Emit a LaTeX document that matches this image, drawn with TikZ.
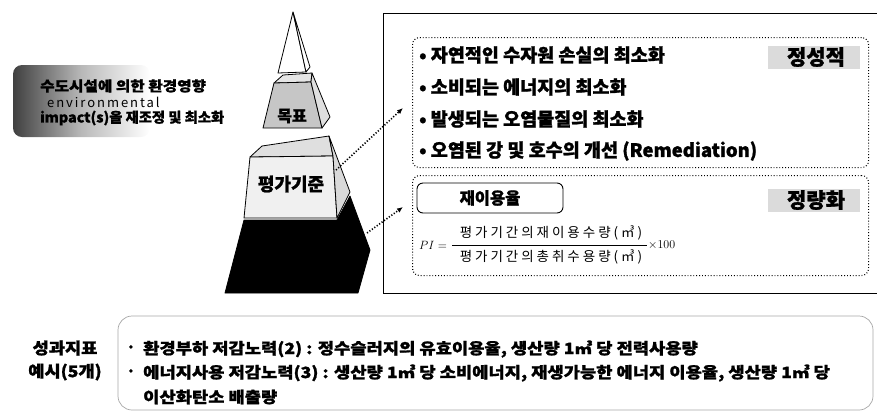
\documentclass[tikz,border=0pt]{standalone}
\usepackage{graphicx}
\usepackage{fontspec}
\setmainfont{Noto Sans CJK KR}[BoldFeatures={FakeBold=1.2}]
\newfontfamily\krlight[LetterSpace=22]{Noto Sans CJK KR}
\newfontfamily\krspaced[LetterSpace=15]{Noto Sans CJK KR}
\usetikzlibrary{arrows.meta}
\newcommand{\wide}[2]{\scalebox{#1}[1]{#2}}
\begin{document}
\begin{tikzpicture}[x=1pt,y=-1pt,
  edge/.style={draw=black, line width=0.8pt, line join=round},
  dotbox/.style={draw, line width=1.1pt, dash pattern=on 0.9pt off 2pt, rounded corners=7pt},
  dotarrow/.style={line width=1.6pt, dash pattern=on 1.2pt off 1.8pt, -{Latex[length=6pt,width=5pt]}},
  bigtxt/.style={anchor=west, inner sep=0pt, font=\bfseries\fontsize{18.5}{21}\selectfont},
  lowtxt/.style={anchor=west, inner sep=0pt, font=\bfseries\fontsize{15.5}{18}\selectfont},
  lbltxt/.style={anchor=west, inner sep=0pt, font=\bfseries\fontsize{14}{16}\selectfont},
  tag/.style={inner sep=0pt, font=\bfseries\fontsize{21}{24}\selectfont},
  fracpart/.style={inner sep=0pt, font=\krlight\fontsize{13.5}{15}\selectfont}
]
\useasboundingbox (0,0) rectangle (877,416);

% ---------- left label ----------
\shade[rounded corners=9pt, left color=gray!50!black, right color=white, middle color=gray!55]
  (13,65) rectangle (150,137);
\node[lbltxt] (l1) at (40,86) {\wide{1.12}{수도시설에 의한 환경영향}};
\node[anchor=west, inner sep=0pt, font=\krspaced\fontsize{13}{15}\selectfont] (l2) at (47,102) {environmental};
\node[lbltxt] (l3) at (40,118) {\wide{1.02}{impact(s)을 재조정 및 최소화}};

% ---------- pyramid ----------
\filldraw[edge, fill=white] (293,12) -- (278,73) -- (306,72) -- cycle;
\filldraw[edge, fill=white] (293,12) -- (310,67) -- (306,72) -- cycle;
\filldraw[edge, fill=gray!20] (283,75) -- (312,73) -- (311,82) -- (274,83) -- cycle;
\filldraw[edge, fill=gray!45] (274,83) -- (311,82) -- (322,128) -- (263,128) -- cycle;
\filldraw[edge, fill=gray!25] (312,73) -- (330,117) -- (322,128) -- (311,82) -- cycle;
\node[tag, font=\bfseries\fontsize{16}{18}\selectfont] (goal) at (292,116) {목표};
\filldraw[edge, fill=gray!25] (262,146) -- (329,136) -- (333,156) -- (250,157) -- cycle;
\filldraw[edge, fill=gray!12] (250,157) -- (333,156) -- (337,218) -- (244,218) -- cycle;
\filldraw[edge, fill=gray!30] (329,136) -- (350,192) -- (337,218) -- (333,156) -- cycle;
\node[tag, font=\bfseries\fontsize{18}{20}\selectfont] (crit) at (291,184) {평가기준};
\filldraw[edge, fill=black] (244,220) -- (337,220) -- (350,196) -- (370,250) -- (358,293) -- (225,293) -- cycle;

% ---------- right frame ----------
\draw[line width=0.9pt] (877,13) -- (383,13) -- (383,293) -- (877,293);

% qualitative box
\node[dotbox, minimum width=456pt, minimum height=130pt, anchor=north west] (qual) at (412,37) {};
\fill[gray!28] (768,46) rectangle (860,69);
\node[tag] (qtag) at (816,57) {정성적};
\node[bigtxt] (q1) at (419,55) {• 자연적인 수자원 손실의 최소화};
\node[bigtxt] (q2) at (419,87) {• 소비되는 에너지의 최소화};
\node[bigtxt] (q3) at (419,119) {• 발생되는 오염물질의 최소화};
\node[bigtxt] (q4) at (419,151) {• 오염된 강 및 호수의 개선 (Remediation)};

% quantitative box
\node[dotbox, minimum width=456pt, minimum height=100pt, anchor=north west] (quant) at (412,175) {};
\fill[gray!28] (768,189) rectangle (860,212);
\node[tag] (ntag) at (816,200) {정량화};
\node[draw, line width=0.9pt, rounded corners=6pt, minimum width=146pt, minimum height=30pt,
      font=\bfseries\fontsize{16.5}{18}\selectfont] (reuse) at (490,198) {재이용율};

% formula
\node[anchor=west, inner sep=0pt, font=\fontsize{13}{15}\selectfont] (pi) at (419,245) {$PI=$};
\coordinate (fl) at (452,245);
\coordinate (fr) at (647,245);
\draw[line width=0.6pt] (fl) -- (fr);
\node[fracpart] (num) at (551,233) {평가기간의재이용수량(㎥)};
\node[fracpart] (den) at (551,257) {평가기간의총취수용량(㎥)};
\node[anchor=west, inner sep=0pt, font=\fontsize{13}{15}\selectfont] (times) at (648,245) {$\times100$};

% arrows
\coordinate (a1s) at (336,170);
\coordinate (a1e) at (403,108);
\coordinate (a2s) at (367,233);
\coordinate (a2e) at (403,207);
\draw[dotarrow] (a1s) -- (a1e);
\draw[dotarrow] (a2s) -- (a2e);

% ---------- bottom ----------
\node[inner sep=0pt, font=\bfseries\fontsize{16}{18}\selectfont] (kpi1) at (65,348) {\wide{1.1}{성과지표}};
\node[inner sep=0pt, font=\bfseries\fontsize{16}{18}\selectfont] (kpi2) at (65,372) {\wide{1.1}{예시(5개)}};
\draw[gray!70, line width=0.7pt, rounded corners=14pt] (118,316) rectangle (873,410);
\node[lowtxt] (bu1) at (126,349) {·};
\node[lowtxt] (bu2) at (126,373) {·};
\node[lowtxt] (b1) at (143,349) {\wide{1.14}{환경부하 저감노력(2) : 정수슬러지의 유효이용율, 생산량 1㎥ 당 전력사용량}};
\node[lowtxt] (b2) at (143,373) {\wide{1.14}{에너지사용 저감노력(3) : 생산량 1㎥ 당 소비에너지, 재생가능한 에너지 이용율, 생산량 1㎥ 당}};
\node[lowtxt] (b3) at (143,397) {\wide{1.14}{이산화탄소 배출량}};
\end{tikzpicture}
\end{document}
